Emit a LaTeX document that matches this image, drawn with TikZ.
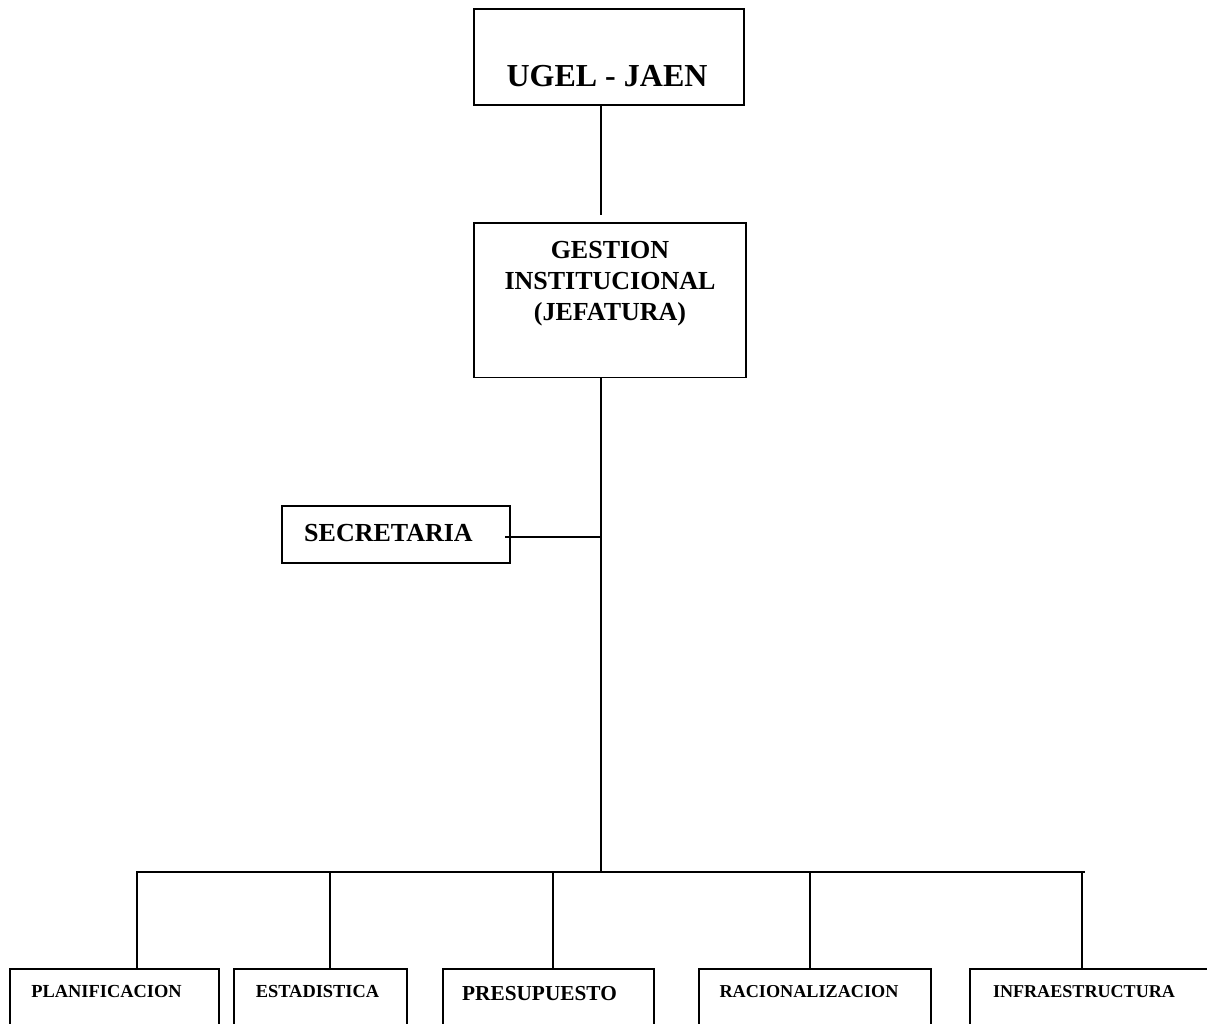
\documentclass[tikz,border=0pt]{standalone}
\usepackage{fontspec}
\setmainfont{Liberation Serif}
\begin{document}
\begin{tikzpicture}[x=1pt,y=-1pt,
  box/.style={draw,line width=1.8pt,inner sep=0pt,anchor=north west},
  lbl/.style={anchor=base,inner sep=0pt,font=\bfseries},
  conn/.style={line width=1.8pt}]
\clip (0,0) rectangle (1207,1024);
\fill[white] (0,0) rectangle (1207,1024);
% boxes
\node[box,minimum width=270pt,minimum height=96pt] (ugel) at (473,8) {};
\node[box,minimum width=272pt,minimum height=154pt] (gest) at (473,222.5) {};
\node[box,minimum width=228pt,minimum height=57pt] (secr) at (281,505) {};
\node[box,minimum width=209pt,minimum height=90pt] (plan) at (9,968) {};
\node[box,minimum width=173pt,minimum height=90pt] (esta) at (233,968) {};
\node[box,minimum width=211pt,minimum height=90pt] (pres) at (442,968) {};
\node[box,minimum width=232pt,minimum height=90pt] (raci) at (698,968) {};
\node[box,minimum width=260pt,minimum height=90pt] (infr) at (969,968) {};
% labels
\node[lbl,font=\fontsize{32}{38}\selectfont\bfseries] (tugel) at (607,87) {UGEL - JAEN};
\node[lbl,font=\fontsize{26}{31}\selectfont\bfseries] (tg1) at (610,259) {GESTION};
\node[lbl,font=\fontsize{26}{31}\selectfont\bfseries] (tg2) at (610,290) {INSTITUCIONAL};
\node[lbl,font=\fontsize{26}{31}\selectfont\bfseries] (tg3) at (610,320) {(JEFATURA)};
\node[lbl,font=\fontsize{26}{31}\selectfont\bfseries] (tsecr) at (388.5,541) {SECRETARIA};
\node[lbl,font=\fontsize{18.4}{22}\selectfont\bfseries] (tplan) at (106.5,997) {PLANIFICACION};
\node[lbl,font=\fontsize{18.4}{22}\selectfont\bfseries] (testa) at (317.5,997) {ESTADISTICA};
\node[lbl,font=\fontsize{21.3}{25}\selectfont\bfseries] (tpres) at (539.5,1000) {PRESUPUESTO};
\node[lbl,font=\fontsize{18.2}{22}\selectfont\bfseries] (traci) at (809,997) {RACIONALIZACION};
\node[lbl,font=\fontsize{18.1}{22}\selectfont\bfseries] (tinfr) at (1084,997) {INFRAESTRUCTURA};
% coordinates
\coordinate (top) at (601,215);
\coordinate (junc) at (601,872);
\coordinate (sj) at (505,537);
\coordinate (busL) at (136,872);
\coordinate (busR) at (1085,872);
\coordinate (d1) at (137,872);
\coordinate (d2) at (330,872);
\coordinate (d3) at (553,872);
\coordinate (d4) at (810,872);
\coordinate (d5) at (1082,872);
% connectors
\draw[conn] (ugel.south -| top) -- (top);
\draw[conn] (gest.south -| top) -- (junc);
\draw[conn] (sj) -- (sj -| top);
\draw[conn] (busL) -- (busR);
\draw[conn] (d1) -- (d1 |- plan.north);
\draw[conn] (d2) -- (d2 |- esta.north);
\draw[conn] (d3) -- (d3 |- pres.north);
\draw[conn] (d4) -- (d4 |- raci.north);
\draw[conn] (d5) -- (d5 |- infr.north);
\end{tikzpicture}
\end{document}
